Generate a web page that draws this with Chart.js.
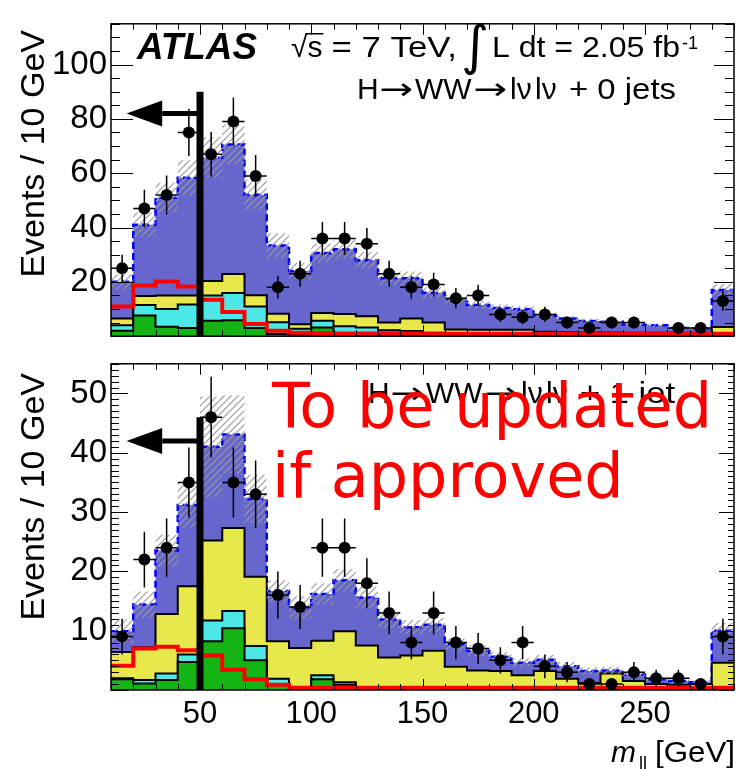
<!DOCTYPE html>
<html>
<head>
<meta charset="utf-8">
<script src="https://cdn.jsdelivr.net/npm/chart.js@4.4.1/dist/chart.umd.min.js"></script>
<style>
  html, body { margin: 0; padding: 0; background: #fff; overflow: hidden; }
  #wrap { position: relative; width: 736px; height: 769px; overflow: hidden; }
  canvas { position: absolute; left: 0; }
  #top_chart { top: 0; }
  #bottom_chart { top: 340px; }
</style>
</head>
<body>
<div id="wrap">
  <canvas id="top_chart" width="740" height="360"></canvas>
  <canvas id="bottom_chart" width="740" height="429"></canvas>
</div>
<script>
const FONT = "'Liberation Sans', Arial, sans-serif";
Chart.defaults.font.family = FONT;

// m_ll bins, 10 GeV wide
const binEdges = [10, 20, 30, 40, 50, 60, 70, 80, 90, 100, 110, 120, 130, 140, 150,
  160, 170, 180, 190, 200, 210, 220, 230, 240, 250, 260, 270, 280, 290];
const xTicks = [50, 100, 150, 200, 250];

// ---- 0 jets ----
const data0 = [25, 47, 52, 75, 67, 79, 59, 18, 23, 36, 36, 34, 23, 18, 19, 14, 15, 8, 7, 8, 5, 3, 5, 5, null, 3, 3, 13];
const dataErr0 = [5.0, 6.9, 7.2, 8.7, 8.2, 8.9, 7.7, 4.2, 4.8, 6.0, 6.0, 5.8, 4.8, 4.2, 4.4, 3.7, 3.9, 2.8, 2.6, 2.8, 2.2, 1.7, 2.2, 2.2, null, 1.7, 1.7, 3.6];
// stack tops (cumulative)
const totalTop0 = [20.0, 41.0, 51.0, 58.3, 65.7, 70.6, 52.1, 33.4, 24.0, 30.6, 32.0, 28.0, 21.3, 21.3, 16.0, 13.6, 11.5, 10.4, 9.9, 7.7, 6.5, 5.6, 5.3, 4.3, 4.0, 3.0, 2.7, 17.0];
const yellowTop0 = [6.5, 14.8, 15.0, 15.0, 20.3, 22.9, 15.1, 8.3, 4.4, 8.5, 8.2, 7.3, 5.0, 6.5, 5.0, 2.5, 2.4, 2.4, 2.4, 1.6, 1.5, 1.4, 1.4, 1.3, 1.3, 1.3, 1.3, 3.4];
const cyanTop0 = [4.0, 11.5, 10.0, 11.7, 15.0, 15.9, 10.9, 5.1, 2.7, 5.7, 3.7, 3.2, 2.2, 1.9, 1.2, 0.8, 0.6, 0.5, 0.5, 0.4, 0.4, 0.4, 0.4, 0.4, 0.4, 0.4, 0.4, 0.8];
const greenTop0 = [2.0, 7.6, 3.5, 3.0, 5.7, 5.9, 3.0, 0.8, 0.5, 3.2, 0.8, 0.5, 0.4, 0.4, 0.3, 0.2, 0.2, 0.2, 0.2, 0.2, 0.2, 0.2, 0.2, 0.2, 0.2, 0.2, 0.2, 0.3];
const bkgErr0 = [2.8, 4.5, 5.5, 6.5, 7.5, 7.2, 5.5, 4.5, 3.0, 3.5, 3.5, 3.0, 2.5, 2.5, 2.0, 1.6, 1.4, 1.3, 1.2, 1.0, 0.9, 0.8, 0.8, 0.7, 0.7, 0.6, 0.5, 2.2];
const signal0 = [10.9, 18.7, 20.1, 18.3, 13.4, 8.9, 4.5, 2.0, 1.3, 1.1, 1.0, 1.0, 1.0, 1.0, 1.0, 0.9, 0.9, 0.9, 0.9, 0.9, 0.9, 0.9, 0.9, 0.9, 0.9, 0.9, 0.9, 0.9];
const yTicks0 = [20, 40, 60, 80, 100];

// ---- 1 jet ----
const data1 = [9, 22, 24, 35, 46, 35, 33, 16, 14, 24, 24, 18, 13, 8, 13, 8, 7, 5, 8, 4, 3, 1, 1, 3, 2, 2, 1, 9];
const dataErr1 = [3.0, 4.7, 4.9, 5.9, 6.8, 5.9, 5.7, 4.0, 3.7, 4.9, 4.9, 4.2, 3.6, 2.8, 3.6, 2.8, 2.6, 2.2, 2.8, 2.0, 1.7, 1.0, 1.0, 1.7, 1.4, 1.4, 1.0, 3.0];
const totalTop1 = [9.9, 14.4, 23.5, 31.2, 41.0, 43.1, 32.2, 16.7, 13.9, 16.2, 18.5, 15.6, 11.9, 10.6, 11.0, 7.7, 6.6, 5.6, 4.6, 5.1, 4.0, 3.2, 3.3, 2.6, 1.8, 1.5, 1.3, 10.0];
const yellowTop1 = [6.4, 7.2, 12.8, 17.5, 25.2, 27.3, 19.1, 8.2, 7.1, 8.3, 9.9, 7.5, 5.5, 5.8, 6.6, 3.9, 3.3, 3.2, 2.5, 3.2, 1.9, 1.2, 2.8, 1.5, 1.0, 0.9, 1.0, 4.6];
const cyanTop1 = [2.0, 1.7, 2.8, 6.0, 11.7, 13.3, 7.4, 1.9, 0.5, 2.5, 1.3, 0.4, 0.3, 0.3, 0.3, 0.3, 0.2, 0.2, 0.2, 0.2, 0.2, 0.2, 0.2, 0.2, 0.1, 0.1, 0.1, 0.3];
const greenTop1 = [1.8, 1.1, 1.7, 4.7, 8.2, 10.4, 5.0, 0.9, 0.3, 1.8, 0.9, 0.2, 0.2, 0.2, 0.2, 0.2, 0.1, 0.1, 0.1, 0.1, 0.1, 0.1, 0.1, 0.1, 0.1, 0.1, 0.1, 0.2];
const bkgErr1 = [2.0, 2.2, 2.7, 3.8, 8.5, 6.6, 4.1, 1.8, 1.9, 1.8, 1.9, 1.8, 1.4, 1.2, 1.2, 1.0, 0.9, 0.8, 0.7, 0.8, 0.7, 0.6, 0.6, 0.5, 0.4, 0.4, 0.4, 1.3];
const signal1 = [4.1, 7.0, 7.3, 6.7, 5.8, 3.4, 1.8, 0.9, 0.4, 0.4, 0.4, 0.4, 0.4, 0.4, 0.4, 0.4, 0.4, 0.4, 0.4, 0.4, 0.4, 0.4, 0.4, 0.4, 0.4, 0.4, 0.4, 0.4];
const yTicks1 = [10, 20, 30, 40, 50];

// m_ll cut and arrow (GeV)
const cutValue = 50;
const arrowTip = 17;
const arrowBase = 33;

const colPurple = "#6666cc";
const colYellow = "#e8e84c";
const colCyan = "#4ce8e8";
const colGreen = "#14b414";

const centers = binEdges.slice(0, -1).map((e, i) => (e + binEdges[i + 1]) / 2);

function histPoints(vals) {
  const pts = vals.map((v, i) => ({ x: binEdges[i], y: v }));
  pts.push({ x: binEdges[binEdges.length - 1], y: vals[vals.length - 1] });
  return pts;
}

const hatch = (function () {
  const c = document.createElement("canvas");
  c.width = 7;
  c.height = 7;
  const g = c.getContext("2d");
  g.strokeStyle = "#9a9a9a";
  g.lineWidth = 1.2;
  g.beginPath();
  g.moveTo(-1, 8); g.lineTo(8, -1);
  g.moveTo(-1, 1); g.lineTo(1, -1);
  g.moveTo(6, 8); g.lineTo(8, 6);
  g.stroke();
  return g.createPattern(c, "repeat");
})();

function text(ctx, str, x, y, font, color) {
  ctx.font = font;
  ctx.fillStyle = color || "#000";
  ctx.textAlign = "left";
  ctx.textBaseline = "alphabetic";
  ctx.fillText(str, x, y);
  return ctx.measureText(str).width;
}

// text squeezed/stretched to the width ROOT gave it
function fitText(ctx, str, x, y, font, width) {
  ctx.save();
  ctx.font = font;
  ctx.fillStyle = "#000";
  ctx.textAlign = "left";
  ctx.textBaseline = "alphabetic";
  const w = ctx.measureText(str).width;
  ctx.translate(x, y);
  ctx.scale(width / w, 1);
  ctx.fillText(str, 0, 0);
  ctx.restore();
}

// "H→WW→lνlν + n jets"
function channelLabel(ctx, x, y, tail, tailWidth) {
  const f = "30px " + FONT;
  const fa = "30px 'DejaVu Sans', sans-serif";
  text(ctx, "H", x, y, f);
  fitText(ctx, "\u2192", x + 22, y, fa, 34);
  text(ctx, "WW", x + 58, y, f);
  fitText(ctx, "\u2192", x + 116, y, fa, 34);
  text(ctx, "l\u03BD", x + 153, y, f);
  text(ctx, "l\u03BD", x + 178, y, f);
  fitText(ctx, tail, x + 212, y, f, tailWidth);
}

function panelPlugin(p) {
  return {
    id: "panelDecor",
    afterDatasetsDraw(chart) {
      const ctx = chart.ctx;
      const { x, y } = chart.scales;
      ctx.save();
      ctx.strokeStyle = "#000";
      ctx.lineWidth = 1.5;
      ctx.beginPath();
      p.data.forEach((v, i) => {
        if (v === null) return;
        const cx = x.getPixelForValue(centers[i]);
        const cy = y.getPixelForValue(v);
        ctx.moveTo(x.getPixelForValue(binEdges[i]), cy);
        ctx.lineTo(x.getPixelForValue(binEdges[i + 1]), cy);
        ctx.moveTo(cx, y.getPixelForValue(v - p.dataErr[i]));
        ctx.lineTo(cx, y.getPixelForValue(v + p.dataErr[i]));
      });
      ctx.stroke();
      // arrow head
      const ay = y.getPixelForValue(p.arrowY);
      ctx.fillStyle = "#000";
      ctx.beginPath();
      ctx.moveTo(x.getPixelForValue(arrowTip), ay);
      ctx.lineTo(x.getPixelForValue(arrowBase), ay - 13);
      ctx.lineTo(x.getPixelForValue(arrowBase), ay + 13);
      ctx.closePath();
      ctx.fill();
      ctx.restore();
    },
    afterDraw(chart) {
      const ctx = chart.ctx;
      const { left, right, top, bottom } = chart.chartArea;
      const { x, y } = chart.scales;
      ctx.save();
      ctx.strokeStyle = "#000";
      ctx.lineWidth = 1.5;
      ctx.strokeRect(left, top, right - left, bottom - top);
      ctx.lineWidth = 1;
      ctx.beginPath();
      for (let v = 10; v <= 290; v += 10) {
        const px = Math.round(x.getPixelForValue(v)) + 0.5;
        const len = v % 50 === 0 ? p.xMajorLen : p.xMinorLen;
        ctx.moveTo(px, bottom);
        ctx.lineTo(px, bottom - len);
        ctx.moveTo(px, top);
        ctx.lineTo(px, top + len);
      }
      for (let v = 0; v <= y.max; v += p.yMinorStep) {
        const py = Math.round(y.getPixelForValue(v)) + 0.5;
        const major = v % p.yMajorStep === 0;
        ctx.moveTo(left, py);
        ctx.lineTo(left + (major ? p.yMajorLen : p.yMinorLen), py);
        ctx.moveTo(right, py);
        ctx.lineTo(right - (major ? p.yMajorLenR : p.yMinorLenR), py);
      }
      ctx.stroke();

      // y axis title
      ctx.save();
      ctx.translate(35, p.titleEnd);
      ctx.rotate(-Math.PI / 2);
      ctx.font = "34px " + FONT;
      ctx.fillStyle = "#000";
      ctx.textAlign = "right";
      ctx.textBaseline = "middle";
      ctx.fillText("Events / 10 GeV", 0, 0);
      ctx.restore();

      p.drawLabels(ctx);
      ctx.restore();
    },
  };
}

function makePanel(canvasId, p) {
  const bandHigh = p.total.map((v, i) => v + p.bkgErr[i]);
  const bandLow = p.total.map((v, i) => v - p.bkgErr[i]);
  const stack = (label, vals, color, order) => ({
    label,
    data: histPoints(vals),
    stepped: true,
    fill: "origin",
    backgroundColor: color,
    borderColor: "#000",
    borderWidth: 2,
    pointRadius: 0,
    order,
  });
  return new Chart(document.getElementById(canvasId), {
    type: "line",
    data: {
      datasets: [
        {
          label: "Data",
          data: centers.map((c, i) => ({ x: c, y: p.data[i] })),
          showLine: false,
          pointRadius: 6,
          pointHoverRadius: 6,
          pointBackgroundColor: "#000",
          pointBorderWidth: 0,
          order: 1,
        },
        {
          label: "Cut",
          data: [{ x: cutValue, y: 0 }, { x: cutValue, y: p.cutTop }],
          borderColor: "#000",
          borderWidth: 7,
          pointRadius: 0,
          order: 0,
        },
        {
          label: "Arrow",
          data: [{ x: cutValue, y: p.arrowY }, { x: arrowBase, y: p.arrowY }],
          borderColor: "#000",
          borderWidth: 5,
          pointRadius: 0,
          order: 0,
        },
        {
          label: "Signal",
          data: histPoints(p.signal),
          stepped: true,
          borderColor: "#ff0000",
          borderWidth: 4,
          pointRadius: 0,
          fill: false,
          order: 3,
        },
        {
          label: "Uncertainty",
          data: histPoints(bandHigh),
          stepped: true,
          borderWidth: 0,
          pointRadius: 0,
          fill: "+1",
          backgroundColor: hatch,
          order: 5,
        },
        {
          label: "Uncertainty low",
          data: histPoints(bandLow),
          stepped: true,
          borderWidth: 0,
          pointRadius: 0,
          fill: false,
          order: 6,
        },
        stack("green", p.green, colGreen, 7),
        stack("cyan", p.cyan, colCyan, 8),
        stack("yellow", p.yellow, colYellow, 9),
        {
          label: "WW",
          data: histPoints(p.total),
          stepped: true,
          fill: "origin",
          backgroundColor: colPurple,
          borderColor: "#0000ff",
          borderWidth: 2.5,
          borderDash: [7, 4],
          pointRadius: 0,
          order: 10,
        },
      ],
    },
    options: {
      responsive: false,
      animation: false,
      devicePixelRatio: 1,
      events: [],
      layout: { padding: p.padding },
      plugins: { legend: { display: false }, tooltip: { enabled: false } },
      scales: {
        x: {
          type: "linear",
          min: 10,
          max: 290,
          display: p.showX,
          afterFit: (s) => { s.height = p.showX ? 79 : 0; },
          afterBuildTicks: (s) => { s.ticks = xTicks.map((v) => ({ value: v })); },
          ticks: { font: { size: 31 }, color: "#000", padding: 6, maxRotation: 0, autoSkip: false },
          grid: { display: false, drawTicks: false },
          border: { display: false },
        },
        y: {
          type: "linear",
          min: 0,
          max: p.yMax,
          bounds: "data",
          afterFit: (s) => { s.width = 111; },
          afterBuildTicks: (s) => { s.ticks = p.yTicks.map((v) => ({ value: v })); },
          ticks: { font: { size: 33 }, color: "#000", padding: 4 },
          grid: { display: false, drawTicks: false },
          border: { display: false },
        },
      },
    },
    plugins: [panelPlugin(p)],
  });
}

makePanel("top_chart", {
  data: data0, dataErr: dataErr0, total: totalTop0, yellow: yellowTop0, cyan: cyanTop0,
  green: greenTop0, bkgErr: bkgErr0, signal: signal0, yTicks: yTicks0,
  yMax: 115, cutTop: 90, arrowY: 82,
  padding: { left: 0, top: 10, right: 4, bottom: 2 }, showX: false,
  xMajorLen: 11, xMinorLen: 6, yMinorStep: 5, yMajorStep: 20,
  yMajorLen: 22, yMinorLen: 9, yMajorLenR: 20, yMinorLenR: 9,
  titleEnd: 30,
  drawLabels(ctx) {
    fitText(ctx, "ATLAS", 137, 59, "italic bold 37px " + FONT, 120);
    const f = "30px " + FONT;
    const x0 = 291;
    const wr = text(ctx, "\u221A", x0, 57, f);
    const ws = text(ctx, "s", x0 + wr, 57, f);
    ctx.fillRect(x0 + wr - 2, 33, ws + 3, 1.5);
    fitText(ctx, "= 7 TeV,", x0 + wr + ws + 9, 57, f, 457 - (x0 + wr + ws + 9));
    text(ctx, "\u222B", 461, 64, "54px 'DejaVu Sans', sans-serif");
    fitText(ctx, "L dt = 2.05 fb", 492, 57, f, 188);
    text(ctx, "-1", 682, 49, "18px " + FONT);
    channelLabel(ctx, 357, 99, "+ 0 jets", 107);
  },
});

makePanel("bottom_chart", {
  data: data1, dataErr: dataErr1, total: totalTop1, yellow: yellowTop1, cyan: cyanTop1,
  green: greenTop1, bkgErr: bkgErr1, signal: signal1, yTicks: yTicks1,
  yMax: 55, cutTop: 46, arrowY: 42,
  padding: { left: 0, top: 18, right: 4, bottom: 0 }, showX: true,
  xMajorLen: 11, xMinorLen: 6, yMinorStep: 1, yMajorStep: 10,
  yMajorLen: 17, yMinorLen: 8, yMajorLenR: 15, yMinorLenR: 6,
  titleEnd: 373 - 340,
  drawLabels(ctx) {
    const off = 340;
    channelLabel(ctx, 368, 403 - off, "+ 1 jet", 95);
    // x axis title
    const wm = text(ctx, "m", 611, 762 - off, "italic 30px " + FONT);
    text(ctx, "ll", 611 + wm + 3, 769 - off, "18px " + FONT);
    fitText(ctx, "[GeV]", 655, 762 - off, "30px " + FONT, 80);
    // stamp
    const stamp = "62px 'DejaVu Sans', sans-serif";
    text(ctx, "To be updated", 272, 427 - off, stamp, "#ff0000");
    text(ctx, "if approved", 272, 497 - off, stamp, "#ff0000");
  },
});
</script>
</body>
</html>
